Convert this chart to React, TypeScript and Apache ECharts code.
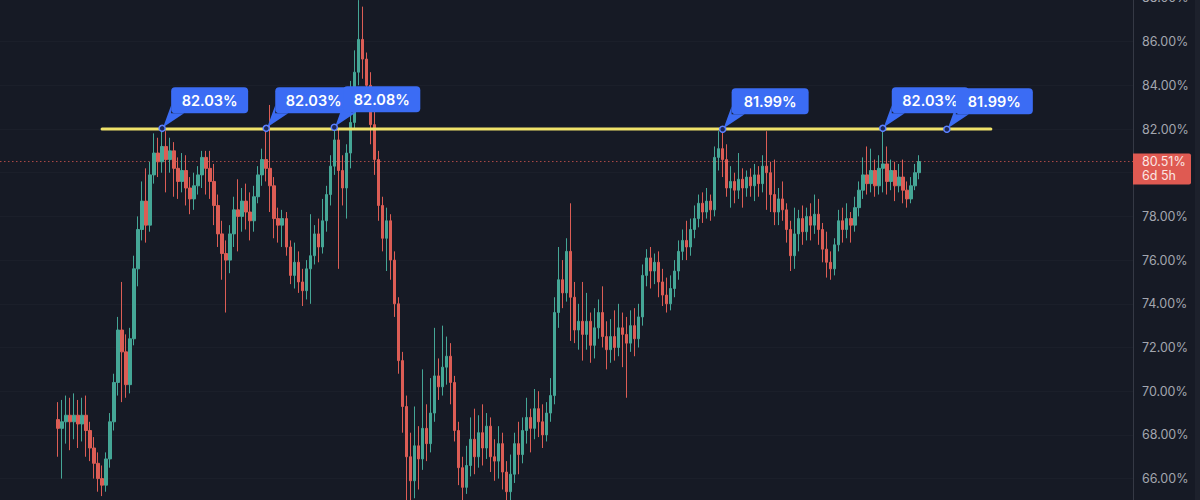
import React, { useEffect, useRef } from "react";
import * as echarts from "echarts";

// Candles: [open, close, low, high] in percent
const CANDLES: number[][] = [
  [68.7, 68.3, 67.0, 69.5], [68.3, 68.6, 66.0, 69.6], [68.6, 68.9, 67.6, 69.8], [68.9, 68.6, 67.3, 69.7],
  [68.6, 68.9, 67.8, 69.9], [68.9, 68.5, 67.4, 69.6], [68.5, 68.9, 67.7, 69.7], [68.9, 68.2, 67.0, 69.8],
  [68.2, 67.4, 66.8, 68.6], [67.4, 66.7, 66.0, 67.9], [66.7, 66.0, 65.4, 67.2], [66.0, 65.7, 65.2, 66.6],
  [65.7, 66.9, 65.4, 67.2], [66.9, 68.6, 66.5, 69.0], [68.6, 70.4, 68.2, 70.8], [70.4, 72.8, 69.8, 73.4],
  [72.8, 71.8, 69.5, 75.0], [71.8, 70.3, 69.7, 72.6], [70.3, 72.4, 69.9, 72.9], [72.4, 75.6, 72.1, 76.2],
  [75.6, 77.4, 74.8, 78.0], [77.4, 78.7, 76.9, 79.6], [78.7, 77.6, 76.8, 80.2], [77.6, 79.9, 77.3, 80.5],
  [79.9, 80.9, 79.5, 81.8], [80.9, 80.5, 79.8, 81.6], [80.5, 81.2, 80.0, 82.03], [81.2, 80.6, 79.1, 81.9],
  [80.6, 81.0, 80.0, 81.6], [81.0, 80.2, 78.9, 81.4], [80.2, 79.6, 78.8, 80.7], [79.6, 80.1, 79.1, 80.9],
  [80.1, 79.3, 78.5, 80.8], [79.3, 78.8, 78.1, 79.8], [78.8, 79.4, 78.3, 80.0], [79.4, 79.9, 79.0, 80.3],
  [79.9, 80.7, 79.3, 81.0], [80.7, 80.2, 79.0, 81.0], [80.2, 79.6, 78.8, 81.0], [79.6, 78.5, 77.6, 80.4],
  [78.5, 77.2, 76.6, 79.0], [77.2, 76.3, 75.1, 77.8], [76.3, 76.0, 73.6, 76.9], [76.0, 77.2, 75.4, 77.6],
  [77.2, 78.3, 76.6, 78.9], [78.3, 78.0, 76.4, 79.7], [78.0, 78.7, 77.3, 79.3], [78.7, 78.2, 77.4, 79.5],
  [78.2, 77.8, 76.9, 79.1], [77.8, 78.9, 77.3, 79.4], [78.9, 79.9, 78.6, 80.3], [79.9, 80.6, 79.4, 81.1],
  [80.6, 80.2, 79.6, 82.03], [80.2, 79.4, 78.2, 83.1], [79.4, 77.9, 77.0, 79.8], [77.9, 77.6, 76.8, 78.4],
  [77.6, 77.9, 76.6, 78.3], [77.9, 76.6, 76.2, 78.2], [76.6, 75.3, 74.9, 76.9], [75.3, 75.9, 74.7, 76.8],
  [75.9, 75.0, 74.5, 76.4], [75.0, 74.6, 73.9, 75.6], [74.6, 75.6, 74.2, 76.0], [75.6, 76.2, 74.0, 78.1],
  [76.2, 77.2, 75.8, 77.6], [77.2, 76.6, 75.9, 77.9], [76.6, 77.8, 76.3, 78.8], [77.8, 79.0, 77.3, 79.4],
  [79.0, 80.3, 78.5, 80.8], [80.3, 81.5, 79.9, 82.08], [81.5, 80.1, 75.6, 82.0], [80.1, 79.3, 78.5, 80.8],
  [79.3, 80.9, 77.9, 81.3], [80.9, 82.3, 80.2, 84.2], [82.3, 84.6, 82.0, 85.6], [84.6, 86.1, 84.0, 87.9],
  [86.1, 85.2, 84.3, 87.6], [85.2, 84.0, 83.1, 85.5], [84.0, 82.2, 81.3, 84.6], [82.2, 80.6, 79.9, 83.6],
  [80.6, 78.5, 77.8, 81.0], [78.5, 77.0, 76.4, 78.9], [77.0, 77.8, 75.5, 78.4], [77.8, 76.0, 75.1, 78.1],
  [76.0, 74.0, 73.4, 76.4], [74.0, 71.4, 70.8, 74.3], [71.4, 69.3, 68.1, 71.8], [69.3, 67.0, 65.0, 69.8],
  [67.0, 65.9, 64.8, 68.1], [65.9, 67.5, 65.1, 69.3], [67.5, 66.9, 65.5, 68.4], [66.9, 68.3, 66.4, 71.0],
  [68.3, 67.6, 66.8, 69.4], [67.6, 69.0, 67.2, 70.6], [69.0, 70.7, 68.6, 72.9], [70.7, 70.2, 69.6, 71.5],
  [70.2, 71.1, 69.8, 73.0], [71.1, 71.6, 70.3, 72.5], [71.6, 70.4, 69.4, 72.2], [70.4, 68.2, 67.7, 70.7],
  [68.2, 66.5, 65.7, 68.6], [66.5, 65.6, 64.9, 67.0], [65.6, 66.6, 65.3, 67.5], [66.6, 67.8, 66.1, 68.8],
  [67.8, 67.0, 66.2, 69.2], [67.0, 68.1, 66.5, 68.9], [68.1, 67.4, 66.6, 69.4], [67.4, 68.4, 66.9, 69.0],
  [68.4, 67.0, 66.3, 68.8], [67.0, 66.8, 65.9, 67.8], [66.8, 67.6, 66.0, 68.4], [67.6, 66.3, 65.5, 68.1],
  [66.3, 65.4, 64.9, 66.8], [65.4, 66.2, 65.0, 67.1], [66.2, 67.6, 65.8, 68.1], [67.6, 67.1, 66.2, 68.6],
  [67.1, 68.2, 66.7, 68.8], [68.2, 68.8, 67.6, 69.7], [68.8, 68.3, 67.2, 69.2], [68.3, 69.2, 67.8, 70.1],
  [69.2, 68.6, 67.9, 70.0], [68.6, 68.0, 67.4, 69.4], [68.0, 69.0, 67.7, 69.5], [69.0, 69.8, 68.6, 70.6],
  [69.8, 73.6, 69.4, 74.3], [73.6, 75.1, 72.9, 76.6], [75.1, 74.5, 73.8, 76.0], [74.5, 76.4, 74.1, 77.0],
  [76.4, 74.3, 72.3, 78.6], [74.3, 72.8, 72.2, 75.0], [72.8, 73.2, 71.9, 74.0], [73.2, 72.6, 71.4, 75.0],
  [72.6, 73.2, 71.9, 74.5], [73.2, 72.1, 71.3, 73.6], [72.1, 72.9, 71.5, 73.8], [72.9, 73.6, 72.4, 74.2],
  [73.6, 72.5, 72.0, 74.8], [72.5, 71.9, 71.0, 73.2], [71.9, 72.5, 71.3, 73.3], [72.5, 72.0, 71.4, 73.7],
  [72.0, 72.9, 71.6, 74.0], [72.9, 72.6, 71.1, 73.6], [72.6, 72.2, 69.7, 73.4], [72.2, 73.0, 71.8, 73.7],
  [73.0, 72.4, 71.6, 73.8], [72.4, 73.4, 72.0, 74.0], [73.4, 75.3, 73.0, 75.8], [75.3, 76.1, 74.8, 76.5],
  [76.1, 75.5, 74.7, 76.6], [75.5, 75.9, 74.9, 76.3], [75.9, 75.0, 74.3, 76.4], [75.0, 74.4, 73.9, 75.6],
  [74.4, 74.0, 73.6, 75.2], [74.0, 74.7, 73.7, 75.3], [74.7, 75.5, 74.3, 76.0], [75.5, 76.4, 75.1, 76.9],
  [76.4, 76.9, 76.0, 77.4], [76.9, 76.6, 76.0, 77.8], [76.6, 77.4, 76.2, 77.9], [77.4, 77.9, 77.0, 78.5],
  [77.9, 78.6, 77.5, 79.0], [78.6, 78.2, 77.7, 79.1], [78.2, 78.7, 77.9, 79.3], [78.7, 78.3, 77.8, 79.0],
  [78.3, 80.7, 78.0, 81.2], [80.7, 81.1, 80.1, 81.9], [81.1, 80.6, 79.8, 81.99], [80.6, 79.3, 78.9, 81.3],
  [79.3, 79.6, 78.4, 80.3], [79.6, 79.2, 78.6, 80.0], [79.2, 79.7, 78.8, 80.9], [79.7, 79.3, 78.4, 80.2],
  [79.3, 79.8, 78.9, 80.1], [79.8, 79.4, 78.9, 80.2], [79.4, 79.9, 78.7, 80.4], [79.9, 79.5, 78.9, 80.3],
  [79.5, 80.3, 79.1, 80.8], [80.3, 80.0, 78.3, 81.9], [80.0, 79.0, 78.2, 80.5], [79.0, 78.2, 77.6, 80.6],
  [78.2, 78.8, 77.6, 79.3], [78.8, 78.3, 77.8, 79.6], [78.3, 77.4, 76.8, 78.6], [77.4, 76.2, 75.5, 77.8],
  [76.2, 77.2, 75.6, 78.4], [77.2, 77.9, 76.4, 78.3], [77.9, 77.3, 76.7, 78.5], [77.3, 78.0, 76.9, 78.4],
  [78.0, 77.6, 76.9, 78.6], [77.6, 78.1, 77.2, 79.0], [78.1, 77.4, 76.7, 78.8], [77.4, 76.5, 75.9, 77.7],
  [76.5, 75.9, 75.2, 77.3], [75.9, 75.6, 75.1, 76.4], [75.6, 76.7, 75.3, 77.0], [76.7, 77.8, 76.4, 78.3],
  [77.8, 77.4, 76.8, 78.4], [77.4, 77.9, 77.0, 78.6], [77.9, 77.6, 76.8, 78.2], [77.6, 78.4, 77.3, 78.9],
  [78.4, 79.2, 78.0, 79.6], [79.2, 79.9, 78.8, 80.7], [79.9, 79.5, 79.0, 81.2], [79.5, 80.1, 79.1, 81.1],
  [80.1, 79.4, 78.9, 80.6], [79.4, 80.2, 79.0, 80.8], [80.2, 80.4, 79.1, 82.03], [80.4, 79.6, 79.0, 81.2],
  [79.6, 80.1, 79.2, 80.6], [80.1, 79.4, 78.7, 80.5], [79.4, 79.8, 79.1, 80.4], [79.8, 79.2, 78.6, 80.6],
  [79.2, 78.8, 78.4, 79.6], [78.8, 79.4, 78.6, 79.8], [79.4, 80.0, 79.2, 80.4], [80.0, 80.51, 79.7, 80.8],
];

// Empty slots before the first candle and the total slot count (the rest is right margin)
const LEAD_SLOTS = 14;
const SLOT_COUNT = 283;

// Horizontal trend line at the resistance level
const TREND_LEVEL = 82.0;
const TREND_SLOTS = [25, 247];

// Touch points measured on the trend line
const MARK_SLOTS = [40, 66, 83, 180, 220, 236];
const MARK_VALUES = [82.03, 82.03, 82.08, 81.99, 82.03, 81.99];

// Last price tag
const LAST_PRICE = 80.51;
const COUNTDOWN = "6d 5h";

// Price axis ticks
const Y_MIN = 64;
const Y_MAX = 88;
const Y_STEP = 2;

const BG = "#161a25";
const UP = "#45a696";
const DOWN = "#dc5d55";
const BLUE = "#3b6cf4";
const FONT = "Inter, Roboto, 'DejaVu Sans', sans-serif";

export default function App() {
  const ref = useRef<HTMLDivElement>(null);

  useEffect(() => {
    document.body.style.margin = "0";
    document.body.style.background = BG;
    if (!ref.current) return;
    const chart = echarts.init(ref.current, null, { renderer: "svg" });

    const categories = Array.from({ length: SLOT_COUNT }, (_, i) => String(i));
    const candleData: any[] = [];
    for (let i = 0; i < LEAD_SLOTS; i++) candleData.push("-");
    CANDLES.forEach((c) => candleData.push(c));

    const markData = MARK_SLOTS.map((s, i) => [s, MARK_VALUES[i]]);

    chart.setOption({
      animation: false,
      backgroundColor: BG,
      grid: { left: 0, right: 67, top: -2.1, bottom: -22.3, outerBoundsMode: "none", containLabel: false },
      xAxis: {
        type: "category",
        data: categories,
        boundaryGap: true,
        axisLine: { show: false },
        axisTick: { show: false },
        axisLabel: { show: false },
        splitLine: { show: false },
      },
      yAxis: {
        type: "value",
        position: "right",
        min: Y_MIN,
        max: Y_MAX,
        interval: Y_STEP,
        axisLine: { show: true, lineStyle: { color: "#353945", width: 1 } },
        axisTick: { show: false },
        axisLabel: {
          margin: 9,
          color: "#a3a6af",
          fontSize: 12.5,
          fontFamily: FONT,
          // the last-price tag sits over the nearest tick label; the lowest tick is below the view
          formatter: (v: number) =>
            v <= Y_MIN || Math.abs(v - LAST_PRICE) < 1 ? "" : v.toFixed(2) + "%",
        },
        splitLine: { show: true, lineStyle: { color: "rgba(255,255,255,0.025)", width: 1 } },
      },
      series: [
        {
          type: "custom",
          name: "last",
          z: 1,
          clip: false,
          data: [[0, LAST_PRICE]],
          renderItem: (params: any, api: any) => {
            const cs = params.coordSys;
            const y = api.coord([0, api.value(1)])[1];
            const x0 = cs.x;
            const x1 = cs.x + cs.width;
            return {
              type: "group",
              children: [
                {
                  type: "line",
                  shape: { x1: x0, y1: y, x2: x1, y2: y },
                  style: { stroke: "#c9544e", lineWidth: 1, lineDash: [1.5, 2.5], opacity: 0.85 },
                },
                {
                  type: "rect",
                  shape: { x: x1, y: y - 8, width: 58, height: 31, r: [0, 2, 2, 0] },
                  style: { fill: "#df5a52" },
                },
                {
                  type: "text",
                  x: x1 + 9,
                  y: y,
                  style: {
                    text: api.value(1).toFixed(2) + "%",
                    fill: "#fbe6e3",
                    fontSize: 12.5,
                    fontFamily: FONT,
                    align: "left",
                    verticalAlign: "middle",
                  },
                },
                {
                  type: "text",
                  x: x1 + 9,
                  y: y + 14,
                  style: {
                    text: COUNTDOWN,
                    fill: "#fbe6e3",
                    fontSize: 12.5,
                    fontFamily: FONT,
                    align: "left",
                    verticalAlign: "middle",
                  },
                },
              ],
            };
          },
        },
        {
          type: "candlestick",
          name: "price",
          z: 2,
          barWidth: "75%",
          data: candleData,
          itemStyle: {
            color: UP,
            color0: DOWN,
            borderColor: UP,
            borderColor0: DOWN,
            borderWidth: 1,
          },
        },
        {
          type: "line",
          name: "trend",
          z: 3,
          symbol: "none",
          data: TREND_SLOTS.map((s) => [s, TREND_LEVEL]),
          lineStyle: { color: "#efe26a", width: 3, cap: "round" },
          silent: true,
        },
        {
          type: "custom",
          name: "touches",
          z: 4,
          clip: false,
          data: markData,
          renderItem: (params: any, api: any) => {
            const p = api.coord([api.value(0), api.value(1)]);
            const px = p[0];
            const py = p[1];
            const bx = px + 9;
            const by = py - 15;
            const w = 77;
            const h = 26;
            return {
              type: "group",
              children: [
                {
                  type: "polygon",
                  shape: { points: [[px + 1, py - 1], [bx, by - 8], [bx, by], [bx + 13, by]] },
                  style: { fill: BLUE },
                },
                {
                  type: "rect",
                  shape: { x: bx, y: by - h, width: w, height: h, r: 4 },
                  style: { fill: BLUE },
                },
                {
                  type: "text",
                  x: bx + w / 2,
                  y: by - h / 2,
                  style: {
                    text: api.value(1).toFixed(2) + "%",
                    fill: "#ffffff",
                    fontSize: 14.5,
                    fontWeight: 600,
                    fontFamily: FONT,
                    align: "center",
                    verticalAlign: "middle",
                  },
                },
                {
                  type: "circle",
                  shape: { cx: px, cy: py, r: 3 },
                  style: { fill: "#1c2757", stroke: "#5a80ff", lineWidth: 1.5 },
                },
              ],
            };
          },
        },
      ],
      graphic: [
        {
          type: "rect",
          right: 0,
          top: 0,
          shape: { width: 5, height: 500 },
          style: { fill: "#1d212c" },
          silent: true,
        },
      ],
    });

    return () => chart.dispose();
  }, []);

  return (
    <div
      ref={ref}
      style={{ position: "fixed", left: 0, top: 0, width: 1200, height: 500 }}
    />
  );
}
